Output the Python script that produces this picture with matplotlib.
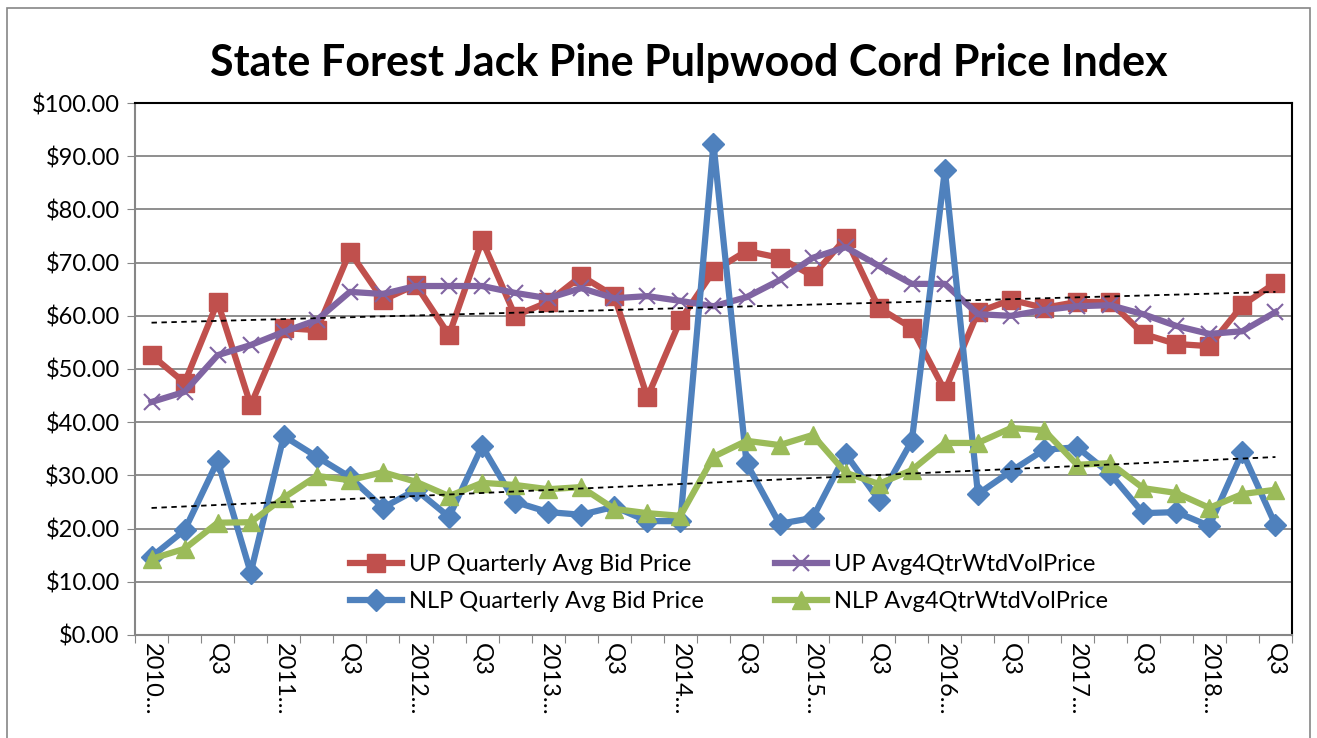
import matplotlib.pyplot as plt
import numpy as np
from matplotlib.patches import Rectangle

# Quarter labels (Excel truncates the year labels)
quarters = []
for yr in range(2010, 2019):
    for q in ["Q1", "Q2", "Q3", "Q4"]:
        quarters.append(str(yr) + " " + q if q == "Q1" else q)
quarters = quarters[:35]
tick_labels = [(lab.split(" ")[0] + "…") if " " in lab else lab for lab in quarters]

up_qtr = [52.6, 47.4, 62.6, 43.2, 57.7, 57.3, 72.0, 63.0, 65.8, 56.4,
          74.2, 60.0, 62.6, 67.5, 63.7, 44.7, 59.2, 68.4, 72.2, 70.9,
          67.5, 74.6, 61.5, 57.7, 45.9, 60.7, 63.0, 61.5, 62.6, 62.6,
          56.6, 54.7, 54.3, 62.0, 66.2]
up_avg = [43.8, 45.7, 52.6, 54.5, 57.0, 59.2, 64.5, 64.1, 65.6, 65.6,
          65.6, 64.3, 63.3, 65.2, 63.3, 63.7, 62.8, 61.8, 63.5, 66.7,
          70.9, 72.9, 69.4, 66.0, 66.0, 60.3, 60.0, 61.1, 61.8, 62.0,
          60.3, 58.1, 56.6, 57.1, 60.7]
nlp_qtr = [14.7, 19.7, 32.7, 11.7, 37.4, 33.5, 29.7, 23.9, 27.3, 22.2,
           35.5, 25.0, 23.1, 22.6, 24.1, 21.4, 21.4, 92.3, 32.3, 20.9,
           22.0, 34.0, 25.4, 36.5, 87.4, 26.5, 30.8, 34.8, 35.3, 30.3,
           22.9, 23.1, 20.5, 34.4, 20.7]
nlp_avg = [14.3, 16.2, 21.1, 21.2, 25.8, 29.9, 29.1, 30.6, 28.8, 26.1,
           28.6, 28.2, 27.4, 27.8, 23.7, 22.9, 22.4, 33.5, 36.5, 35.7,
           37.6, 30.5, 28.4, 31.0, 36.1, 36.1, 38.9, 38.5, 32.0, 32.3,
           27.6, 26.7, 23.9, 26.5, 27.3]

red = "#C0504D"
purple = "#8064A2"
blue = "#4F81BD"
green = "#9BBB59"

plt.rcParams['font.family'] = ['Lato', 'DejaVu Sans']

x = np.arange(len(quarters))

fig = plt.figure(figsize=(13.17, 7.38), dpi=100)
ax = fig.add_axes([0.1025, 0.1396, 0.8785, 0.7208])

# outer chart border
fig.patches.append(Rectangle((7 / 1317, -0.05), 1303 / 1317, 1 - 8 / 738 + 0.05,
                             transform=fig.transFigure, fill=False,
                             edgecolor="#868686", linewidth=1.2))

lw = 4.5
l1, = ax.plot(x, up_qtr, color=red, lw=lw, marker="s", ms=13, label="UP Quarterly Avg Bid Price")
l2, = ax.plot(x, up_avg, color=purple, lw=lw, marker="x", ms=12, mew=1.5, label="UP Avg4QtrWtdVolPrice")
l3, = ax.plot(x, nlp_qtr, color=blue, lw=lw, marker="D", ms=11, label="NLP Quarterly Avg Bid Price")
l4, = ax.plot(x, nlp_avg, color=green, lw=lw, marker="^", ms=13, label="NLP Avg4QtrWtdVolPrice")

# linear trendlines on the 4-quarter averages
for series in (up_avg, nlp_avg):
    f = np.poly1d(np.polyfit(x, series, 1))
    ax.plot(x, f(x), color="black", lw=1.3, ls=(0, (3, 2.5)), zorder=5)

ax.set_xlim(-0.5, len(x) - 0.5)
ax.set_ylim(0, 100)
ax.set_yticks(np.arange(0, 101, 10))
ax.set_yticklabels(["$%.2f" % v for v in np.arange(0, 101, 10)], fontsize=17)
ax.set_xticks(np.arange(-0.5, len(x), 1), minor=False)
ax.set_xticklabels([])
ax.set_xticks(x[::2], minor=True)
ax.set_xticklabels(tick_labels[::2], minor=True, rotation=270, fontsize=17, va="top", ha="center")
ax.tick_params(axis="x", which="minor", length=0, pad=6)
ax.tick_params(axis="x", which="major", length=6, color="#868686", direction="out")
ax.tick_params(axis="y", length=6, color="#868686", direction="out", pad=5)
ax.grid(axis="y", color="#868686", lw=1.3)
ax.set_axisbelow(True)
for side in ("top", "right"):
    ax.spines[side].set_color("black")
    ax.spines[side].set_linewidth(1.5)
for side in ("left", "bottom"):
    ax.spines[side].set_color("#868686")
    ax.spines[side].set_linewidth(1.5)

leg = ax.legend(handles=[l1, l3, l2, l4], ncol=2, loc="lower left",
                bbox_to_anchor=(0.186, 0.043), frameon=False, fontsize=17,
                handlelength=2.2, columnspacing=3.0, labelspacing=0.68,
                handletextpad=0.3, borderpad=0, borderaxespad=0)

fig.text(0.523, 0.915, "State Forest Jack Pine Pulpwood Cord Price Index",
         ha="center", va="center", fontsize=31, fontweight="bold")

plt.savefig("out.png", dpi=100)
